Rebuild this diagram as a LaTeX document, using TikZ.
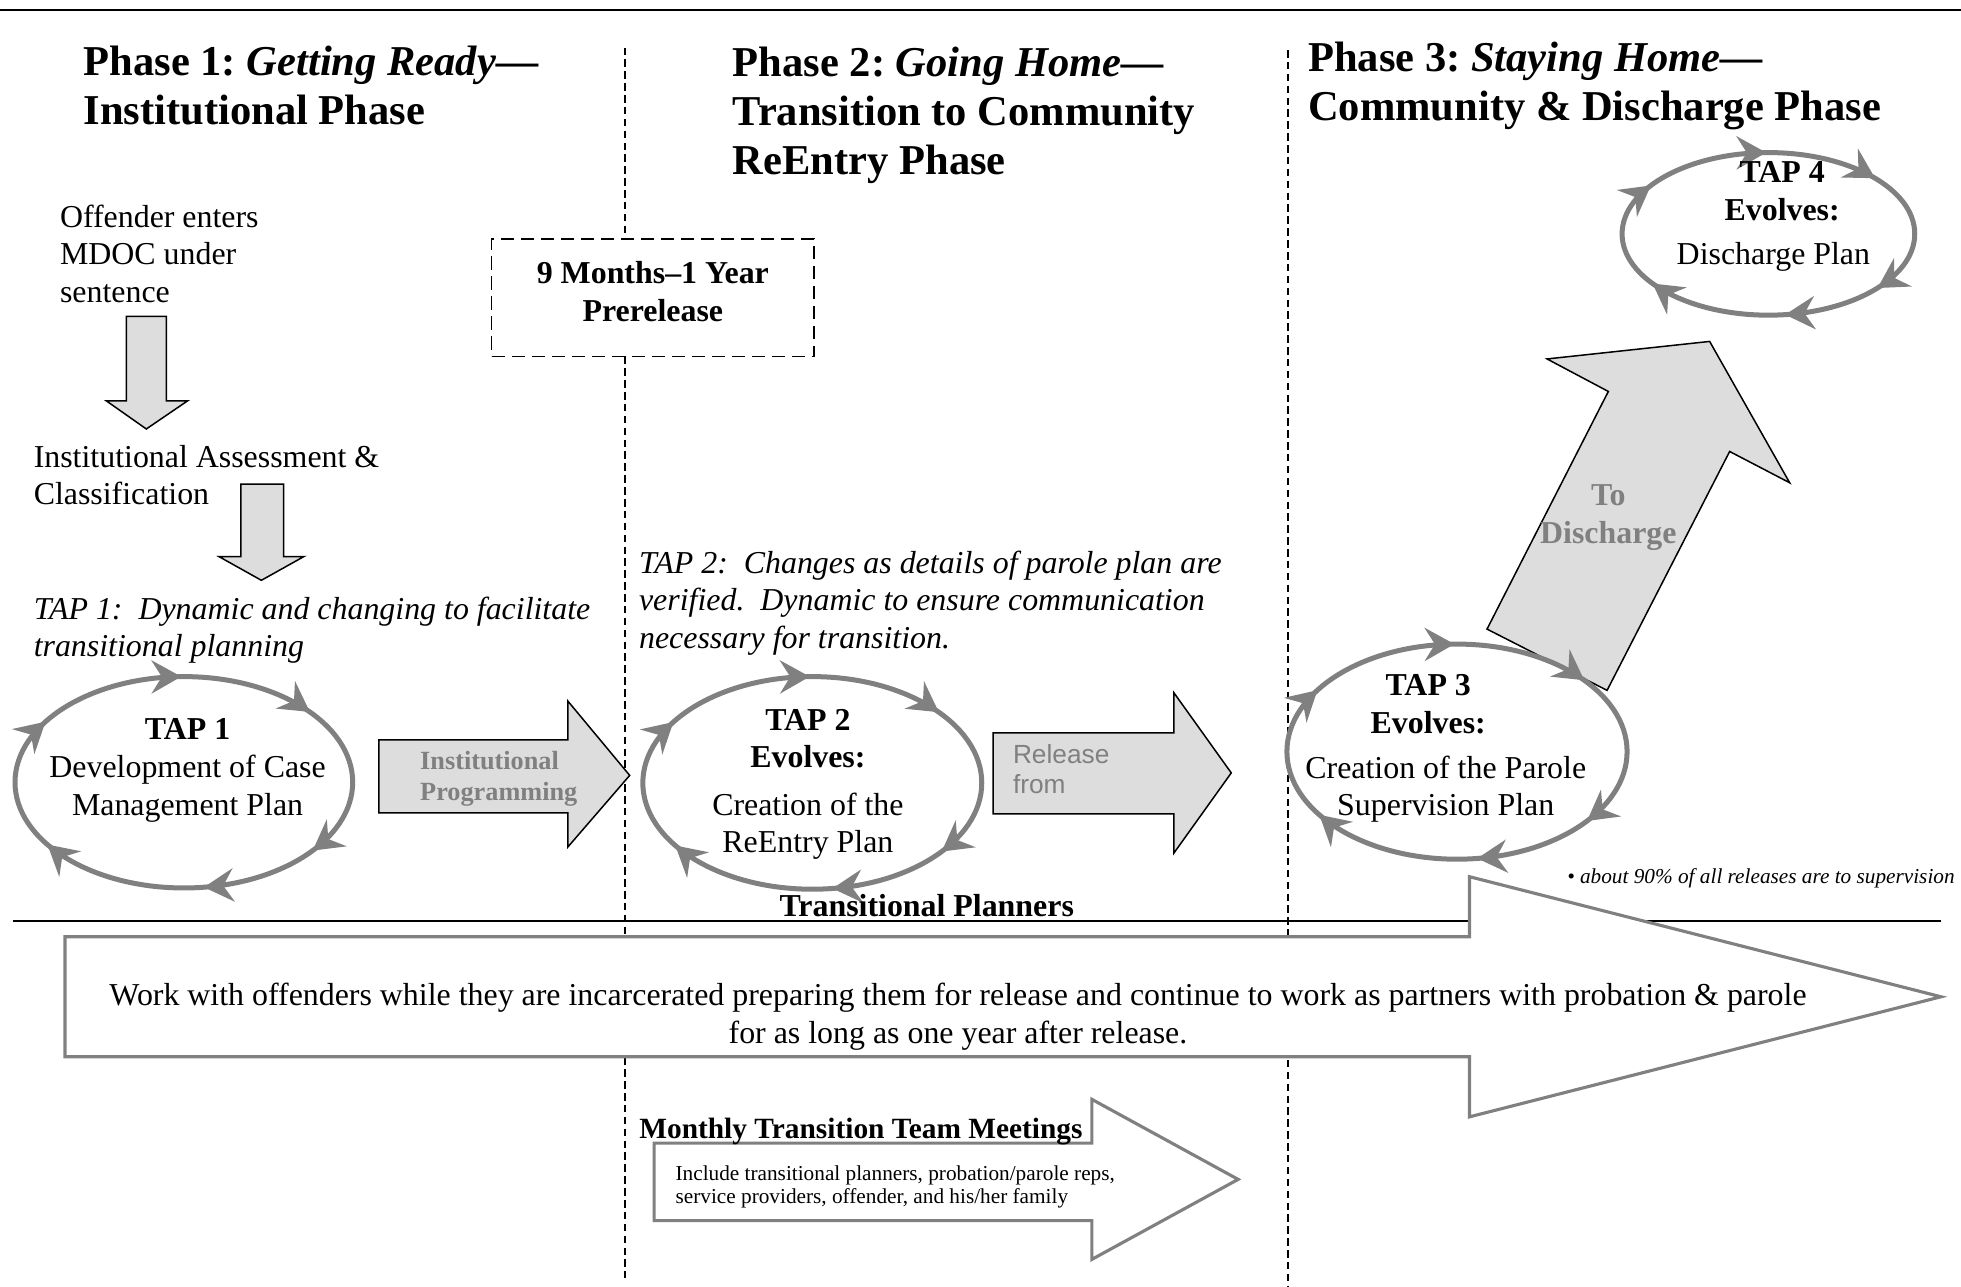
\documentclass[tikz,border=0pt]{standalone}
\usepackage{fontspec}
\setmainfont{Liberation Serif}
\newfontfamily\lsans{Liberation Sans}
\usetikzlibrary{arrows.meta,decorations.markings}
\definecolor{ringgray}{HTML}{808080}
\definecolor{boxfill}{HTML}{DDDDDD}
\definecolor{lblgray}{HTML}{808080}
\frenchspacing
\tikzset{
  ringtip/.tip={Stealth[length=24pt,width=27pt,inset=8.5pt,line width=0pt,color=ringgray]},
  body/.style={inner sep=0pt,outer sep=0pt,font=\fontsize{25.5}{30}\selectfont},
  bodyb/.style={body,font=\fontsize{25.5}{30}\selectfont\bfseries},
  bodyi/.style={body,font=\fontsize{25.5}{30}\selectfont\itshape},
  phasetitle/.style={inner sep=0pt,outer sep=0pt,font=\fontsize{34}{39}\selectfont\bfseries,align=left,anchor=west},
  blockarrow/.style={draw=black,line width=1.2pt,fill=boxfill,line join=miter},
  bigarrow/.style={draw=ringgray,line width=2.5pt,fill=white,line join=miter},
  divider/.style={line width=1.6pt,dash pattern=on 6pt off 3.5pt},
  ring/.style={draw=ringgray,line width=4pt,fill=white,
    postaction={decorate,decoration={markings,
      mark=at position 0.094 with {\arrow{ringtip}},
      mark=at position 0.227 with {\arrow{ringtip}},
      mark=at position 0.417 with {\arrow{ringtip}},
      mark=at position 0.580 with {\arrow{ringtip}},
      mark=at position 0.747 with {\arrow{ringtip}},
      mark=at position 0.902 with {\arrow{ringtip}}}}},
  graylbl/.style={inner sep=0pt,outer sep=0pt,text=lblgray}
}
\begin{document}
\begin{tikzpicture}[x=1pt,y=1pt]
\useasboundingbox (0,0) rectangle (1568,-1029);
% rules and dividers
\draw[line width=1.5pt] (0,-8) -- (1568,-8);
\draw[divider] (500,-38) -- (500,-1022);
\draw[divider] (1030,-40) -- (1030,-1029);
\draw[line width=1.1pt] (10,-736.5) -- (1552,-736.5);
% big arrow (Transitional Planners)
\draw[bigarrow] (52,-749) -- (1175,-749) -- (1175,-701) -- (1552,-797) -- (1175,-893) -- (1175,-845) -- (52,-845) -- cycle;
% monthly arrow
\draw[bigarrow] (523,-914) -- (873,-914) -- (873,-879) -- (990,-943) -- (873,-1007) -- (873,-976) -- (523,-976) -- cycle;
% prerelease box
\node[draw,line width=1.3pt,dash pattern=on 10.5pt off 5.5pt,fill=white,minimum width=258pt,minimum height=94pt,inner sep=0pt] (prerel) at (522,-238) {};
% down arrows
\draw[blockarrow] (101,-253) -- (133,-253) -- (133,-320.5) -- (150,-320.5) -- (117,-343) -- (85,-320.5) -- (101,-320.5) -- cycle;
\draw[blockarrow] (192.5,-387) -- (226.7,-387) -- (226.7,-445) -- (243,-445) -- (209,-464) -- (175,-445) -- (192.5,-445) -- cycle;
% institutional programming arrow
\draw[blockarrow] (303,-591.5) -- (454,-591.5) -- (454,-560.5) -- (503.5,-620) -- (454,-677.3) -- (454,-650) -- (303,-650) -- cycle;
% release arrow
\draw[blockarrow] (794,-586) -- (938.7,-586) -- (938.7,-554) -- (984.5,-618) -- (938.7,-682) -- (938.7,-650.7) -- (794,-650.7) -- cycle;
% to discharge arrow
\draw[blockarrow] (1189,-503) -- (1286,-313) -- (1237,-287) -- (1367,-273) -- (1431,-386) -- (1383,-361) -- (1285,-552) -- cycle;
% rings
\coordinate (tap1c) at (147,-625.5);
\coordinate (tap2c) at (649.5,-626);
\coordinate (tap3c) at (1165,-601);
\coordinate (tap4c) at (1414,-187);
\draw[ring] (tap1c) ++(135,0) arc[start angle=0,end angle=-360,x radius=135pt,y radius=84.5pt] -- cycle;
\draw[ring] (tap2c) ++(135.5,0) arc[start angle=0,end angle=-360,x radius=135.5pt,y radius=85pt] -- cycle;
\draw[ring] (tap3c) ++(136,0) arc[start angle=0,end angle=-360,x radius=136pt,y radius=86pt] -- cycle;
\draw[ring] (tap4c) ++(117,0) arc[start angle=0,end angle=-360,x radius=117pt,y radius=65pt] -- cycle;
% phase titles
\node[phasetitle] (ph1) at (67,-68.5) {Phase 1: \textit{Getting Ready—}\\Institutional Phase};
\node[phasetitle] (ph2) at (586,-92) {Phase 2: \textit{Going Home—}\\Transition to Community\\ReEntry Phase};
\node[phasetitle] (ph3) at (1046,-68.5) {Phase 3: \textit{Staying Home—}\\Community \& Discharge Phase};
% phase 1 texts
\node[body,align=left,anchor=west] (offender) at (48,-203) {Offender enters\\MDOC under\\sentence};
\node[body,align=left,anchor=west] (assess) at (27,-380) {Institutional Assessment \&\\Classification};
\node[bodyi,align=left,anchor=west] (tap1note) at (27,-504) {TAP 1:~ Dynamic and changing to facilitate\\transitional planning};
\node[body,align=center] (tap1txt) at (150,-616) {\textbf{TAP 1}\\Development of Case\\Management Plan};
\node[graylbl,font=\fontsize{21}{24.5}\selectfont\bfseries,align=left,anchor=west] (progtxt) at (336,-622.6) {Institutional\\Programming};
% phase 2 texts
\node[bodyb,align=center] (prereltxt) at (522,-233) {9 Months–1 Year\\Prerelease};
\node[bodyi,align=left,anchor=west] (tap2note) at (511,-482) {TAP 2:~ Changes as details of parole plan are\\verified.~ Dynamic to ensure communication\\necessary for transition.};
\node[bodyb,align=center] (tap2head) at (646,-590.5) {TAP 2\\Evolves:};
\node[body,align=center] (tap2txt) at (646,-660.5) {Creation of the\\ReEntry Plan};
\node[graylbl,font=\fontsize{21}{24}\lsans,align=left,anchor=west] (reltxt) at (810,-615) {Release\\from};
% phase 3 texts
\node[bodyb,align=center] (tap3head) at (1142,-563) {TAP 3\\Evolves:};
\node[body,align=center] (tap3txt) at (1156,-631) {Creation of the Parole\\Supervision Plan};
\node[graylbl,font=\fontsize{25.5}{30}\selectfont\bfseries,align=center] (dischtxt) at (1286,-414) {To\\Discharge};
\node[bodyb,align=center] (tap4head) at (1425,-153) {TAP 4\\Evolves:};
\node[body] (tap4txt) at (1418,-205) {Discharge Plan};
% bottom texts
\node[bodyb] (planners) at (741,-724) {Transitional Planners};
\node[inner sep=0pt,font=\fontsize{17}{20}\selectfont\itshape,anchor=west] (note90) at (1253,-702) {• about 90\% of all releases are to supervision};
\node[body,align=center] (worktxt) at (766,-813) {Work with offenders while they are incarcerated preparing them for release and continue to work as partners with probation \& parole\\for as long as one year after release.};
\node[inner sep=0pt,font=\fontsize{23.5}{27}\selectfont\bfseries,anchor=west] (monthly) at (511,-905) {Monthly Transition Team Meetings};
\node[inner sep=0pt,font=\fontsize{17}{19}\selectfont,align=left,anchor=west] (include) at (540,-949) {Include transitional planners, probation/parole reps,\\service providers, offender, and his/her family};
\end{tikzpicture}
\end{document}
